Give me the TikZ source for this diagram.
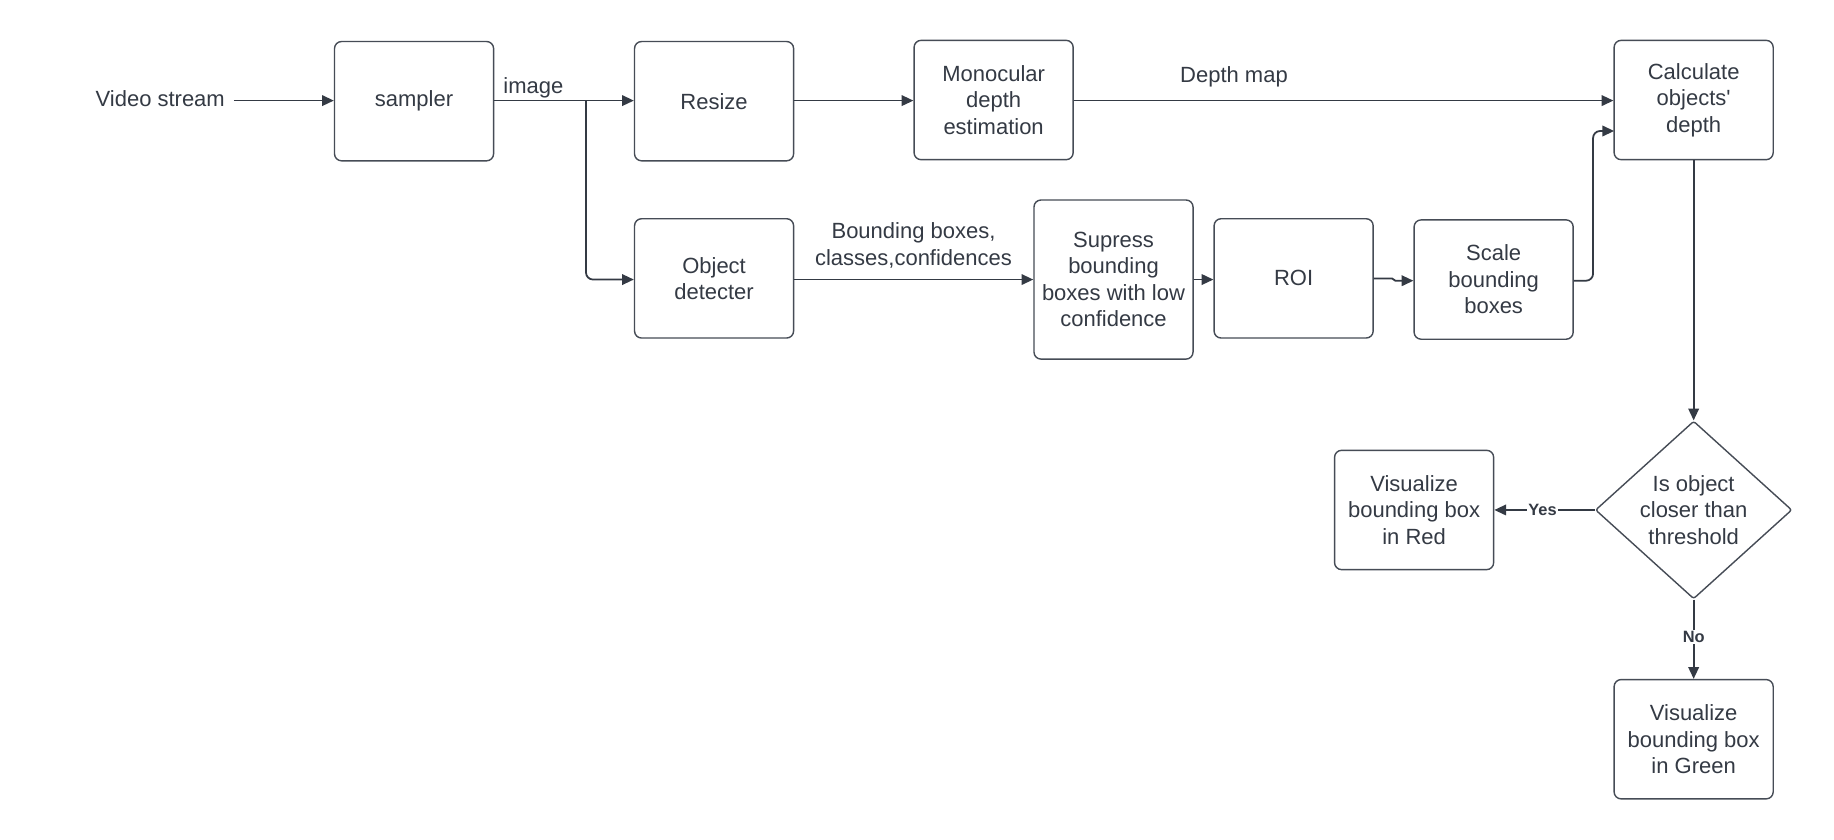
\documentclass[tikz,border=0pt]{standalone}
\usepackage{fontspec}
\setmainfont{Liberation Sans}[Ligatures=TeXOff]
\usetikzlibrary{arrows.meta,shapes.geometric}
\definecolor{ink}{RGB}{52,58,68}
\definecolor{edge}{RGB}{70,76,86}
\tikzset{
  box/.style={draw=edge, line width=0.6pt, rounded corners=3pt, minimum width=68pt, minimum height=51pt, inner sep=0pt, align=center, text=ink, font=\fontsize{9.4}{11.3}\selectfont},
  lbl/.style={text=ink, font=\fontsize{9.4}{11.3}\selectfont, align=center, inner sep=1pt},
  yn/.style={text=ink, font=\bfseries\fontsize{7}{8}\selectfont, fill=white, inner sep=0.5pt},
  conn/.style={draw=ink, line width=0.75pt, -{Triangle[length=5pt,width=4.5pt]}},
}
\begin{document}
\begin{tikzpicture}[x=0.5pt,y=-0.5pt]
\path[use as bounding box, fill=white] (0,0) rectangle (1568,718);

\node[lbl] (vid) at (137,84) {Video stream};
\node[box] (sampler) at (354,86.5) {sampler};
\node[box] (resize) at (610.5,86.5) {Resize};
\node[box] (mono) at (849.5,85.5) {Monocular\\depth\\estimation};
\node[box] (calc) at (1448,85.5) {Calculate\\objects'\\depth};
\node[box] (obj) at (610.5,238) {Object\\detecter};
\node[box, minimum height=68pt] (sup) at (952,239) {Supress\\bounding\\boxes with low\\confidence};
\node[box] (roi) at (1106,238) {ROI};
\node[box] (scale) at (1277,239) {Scale\\bounding\\boxes};
\node[draw=edge, line width=0.6pt, diamond, minimum width=84pt, minimum height=76pt, inner sep=0pt, rounded corners=1pt] (dec) at (1448,436) {};
\node[lbl] (dectext) at (dec.center) {Is object\\closer than\\threshold};
\node[box] (red) at (1209,436) {Visualize\\bounding box\\in Red};
\node[box] (green) at (1448,632) {Visualize\\bounding box\\in Green};

\coordinate (br) at (501,86);
\coordinate (vs) at (200,86);
\coordinate (sc) at (1362,240);
\coordinate (cin) at (1380,112);
\coordinate (rj1) at (1190,238);
\coordinate (rj2) at (1193,240);

\draw[conn] (vs) -- (sampler.west |- vs);
\draw[draw=ink, line width=0.75pt] (sampler.east |- br) -- (br);
\draw[conn] (br) -- (resize.west |- br);
\draw[conn, rounded corners=3pt] (br) |- (obj.west |- 0,239);
\node[lbl] (imagelbl) at (456,75) {image};
\draw[conn] (resize.east |- br) -- (mono.west |- br);
\draw[conn] (mono.east |- br) -- (calc.west |- br);
\node[lbl] (dm) at (1055,66) {Depth map};
\draw[conn] (obj.east |- 0,239) -- (sup.west |- 0,239);
\node[lbl] (bb) at (781,210) {Bounding boxes,\\classes,confidences};
\draw[conn] (sup.east |- 0,239) -- (roi.west |- 0,239);
\draw[conn] (roi.east |- rj1) -- (rj1) -- (rj2) -- (scale.west |- rj2);
\draw[conn, rounded corners=3pt] (scale.east |- sc) -- (sc) |- (cin);
\draw[conn] (calc.south) -- (dec.north);
\draw[conn] (dec.west) -- node[yn, pos=0.52] (yes) {Yes} (red.east);
\draw[conn] (dec.south) -- node[yn, pos=0.47] (no) {No} (green.north);
\end{tikzpicture}
\end{document}
